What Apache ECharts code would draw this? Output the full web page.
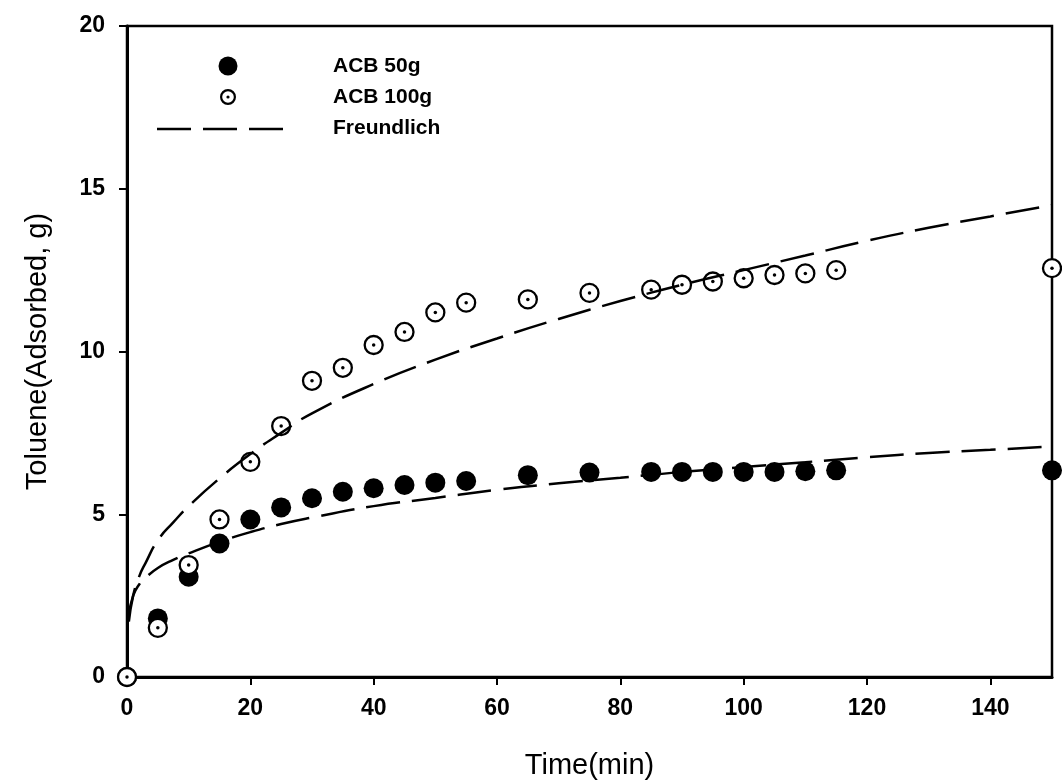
<!DOCTYPE html>
<html>
<head>
<meta charset="utf-8">
<script src="https://cdn.jsdelivr.net/npm/echarts@6/dist/echarts.min.js"></script>
<style>
  html, body { margin: 0; padding: 0; background: #fff; }
  #chart { width: 1062px; height: 781px; }
</style>
</head>
<body>
<div id="chart"></div>
<script>
// measured time points (min)
const timeMin = [0, 5, 10, 15, 20, 25, 30, 35, 40, 45, 50, 55, 65, 75, 85, 90, 95, 100, 105, 110, 115, 150]
const acb50 = [0, 1.8, 3.08, 4.1, 4.84, 5.21, 5.49, 5.69, 5.8, 5.9, 5.97, 6.02, 6.2, 6.28, 6.3, 6.3, 6.3, 6.3, 6.3, 6.32, 6.35, 6.35]
const acb100 = [0, 1.51, 3.44, 4.84, 6.61, 7.71, 9.1, 9.5, 10.2, 10.6, 11.2, 11.5, 11.6, 11.8, 11.9, 12.05, 12.15, 12.25, 12.35, 12.4, 12.5, 12.56]

// Freundlich fitted curves
const fitTime = [0.3, 1, 2, 3, 5, 7.5, 10, 15, 20, 25, 30, 40, 50, 60, 70, 80, 90, 100, 110, 120, 130, 140, 150]
const fit50 = [1.9, 2.5, 2.85, 3.05, 3.35, 3.6, 3.8, 4.15, 4.45, 4.7, 4.9, 5.25, 5.5, 5.75, 5.95, 6.12, 6.3, 6.45, 6.6, 6.75, 6.88, 6.98, 7.08]
const fit100 = [1.7, 2.5, 3.1, 3.5, 4.2, 4.75, 5.25, 6.1, 6.85, 7.5, 8.1, 9.0, 9.75, 10.4, 11.0, 11.55, 12.05, 12.5, 12.95, 13.4, 13.8, 14.15, 14.5]

const xTicks = [0, 20, 40, 60, 80, 100, 120, 140]

const pair = (xs, ys) => xs.map((x, i) => [x, ys[i]])

const font = 'Arial, "Liberation Sans", Helvetica, sans-serif'
const dash = [34, 12]

const chart = echarts.init(document.getElementById('chart'), null, { renderer: 'canvas' })

chart.setOption({
  backgroundColor: '#fff',
  animation: false,
  textStyle: { fontFamily: font, color: '#000' },
  grid: {
    left: 127, right: 10, top: 26, bottom: 104,
    outerBoundsMode: 'none',
    show: true, borderColor: '#000', borderWidth: 2.5
  },
  xAxis: {
    type: 'value', min: 0, max: 150,
    name: 'Time(min)', nameLocation: 'middle', nameGap: 74,
    nameTextStyle: { fontSize: 29, fontFamily: font, color: '#000' },
    axisLine: { onZero: false, lineStyle: { color: '#000', width: 3 } },
    axisTick: { inside: false, length: 8, lineStyle: { color: '#000', width: 2 }, customValues: xTicks },
    axisLabel: { fontSize: 23, fontWeight: 'bold', color: '#000', margin: 20, customValues: xTicks },
    splitLine: { show: false }
  },
  yAxis: {
    type: 'value', min: 0, max: 20, interval: 5,
    name: 'Toluene(Adsorbed, g)', nameLocation: 'middle', nameGap: 75,
    nameTextStyle: { fontSize: 29, fontFamily: font, color: '#000' },
    axisLine: { onZero: false, lineStyle: { color: '#000', width: 3 } },
    axisTick: { inside: false, length: 8, lineStyle: { color: '#000', width: 2 } },
    axisLabel: { fontSize: 23, fontWeight: 'bold', color: '#000', margin: 22 },
    splitLine: { show: false }
  },
  series: [
    {
      name: 'Freundlich 50', type: 'line', data: pair(fitTime, fit50),
      smooth: true, showSymbol: false, clip: false,
      lineStyle: { color: '#000', width: 2.5, type: dash }
    },
    {
      name: 'Freundlich 100', type: 'line', data: pair(fitTime, fit100),
      smooth: true, showSymbol: false, clip: false,
      lineStyle: { color: '#000', width: 2.5, type: dash }
    },
    {
      name: 'ACB 50g', type: 'scatter', data: pair(timeMin, acb50),
      symbol: 'circle', symbolSize: 20, clip: false,
      itemStyle: { color: '#000', opacity: 1 }
    },
    {
      name: 'ACB 100g', type: 'scatter', data: pair(timeMin, acb100),
      symbol: 'circle', symbolSize: 18, clip: false,
      itemStyle: { color: '#fff', borderColor: '#000', borderWidth: 2.3, opacity: 1 }
    },
    {
      name: 'ACB 100g dot', type: 'scatter', data: pair(timeMin, acb100),
      symbol: 'circle', symbolSize: 3.5, clip: false, silent: true,
      itemStyle: { color: '#000', opacity: 1 }
    }
  ],
  graphic: [
    { type: 'circle', shape: { cx: 228, cy: 66, r: 9.5 }, style: { fill: '#000' } },
    { type: 'ring', shape: { cx: 228, cy: 97, r: 8, r0: 5.8 }, style: { fill: '#000' } },
    { type: 'circle', shape: { cx: 228, cy: 97, r: 1.6 }, style: { fill: '#000' } },
    { type: 'line', shape: { x1: 157, y1: 129, x2: 285, y2: 129 },
      style: { stroke: '#000', lineWidth: 2.5, lineDash: dash } },
    { type: 'text', x: 333, y: 66, style: { text: 'ACB 50g', font: 'bold 21px ' + font, fill: '#000', textVerticalAlign: 'middle' } },
    { type: 'text', x: 333, y: 97, style: { text: 'ACB 100g', font: 'bold 21px ' + font, fill: '#000', textVerticalAlign: 'middle' } },
    { type: 'text', x: 333, y: 128, style: { text: 'Freundlich', font: 'bold 21px ' + font, fill: '#000', textVerticalAlign: 'middle' } }
  ]
})
</script>
</body>
</html>
